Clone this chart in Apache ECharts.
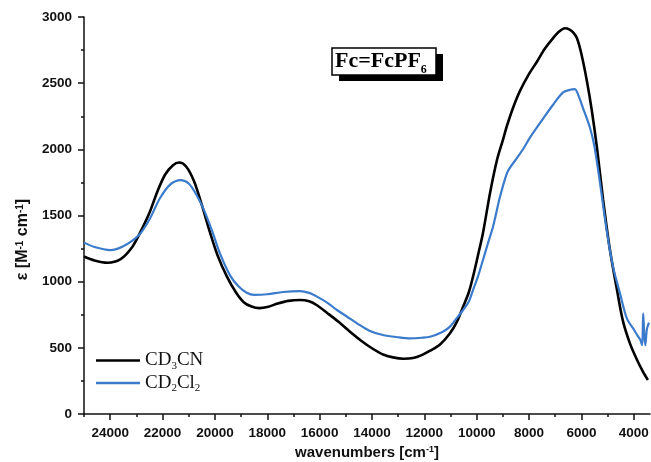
<!DOCTYPE html>
<html>
<head>
<meta charset="utf-8">
<script src="https://cdn.jsdelivr.net/npm/echarts@6/dist/echarts.min.js"></script>
<style>html,body{margin:0;padding:0;background:#fff}#c{width:651px;height:462px}</style>
</head>
<body>
<div id="c"></div>
<script>
// wavenumber (cm^-1), epsilon (M^-1 cm^-1)
const cd3cnX = [25000,24600,24100,23600,23200,22900,22500,22200,21900,21600,21370,21100,20800,20500,20200,19900,19540,19200,18900,18600,18300,18000,17600,17200,16750,16400,16100,15700,15300,14840,14400,14000,13580,13200,12800,12430,12100,11780,11400,11020,10750,10520,10300,10140,9950,9760,9490,9225,9000,8840,8600,8350,8000,7700,7400,7090,6850,6630,6450,6300,6169,6000,5787,5600,5405,5170,4910,4640,4410,4140,3900,3650,3460];
const cd3cnY = [1190,1160,1143,1170,1250,1353,1520,1680,1810,1880,1900,1870,1760,1580,1380,1200,1038,920,845,812,800,808,835,855,862,852,822,762,700,622,552,497,450,428,418,423,445,478,525,610,700,811,920,1038,1200,1368,1670,1919,2070,2180,2320,2440,2570,2662,2760,2839,2890,2915,2905,2880,2839,2720,2512,2290,2010,1617,1239,937,700,530,420,320,257];
const cd2cl2X = [25000,24600,24000,23500,22900,22500,22100,21700,21310,21000,20700,20416,20100,19800,19400,19100,18800,18500,18000,17400,16750,16400,16100,15700,15340,14950,14570,14100,13580,13000,12550,12100,11780,11290,11020,10800,10520,10300,10140,9950,9760,9570,9377,9110,8843,8700,8460,8200,7960,7470,7090,6700,6440,6250,6100,5940,5670,5500,5290,5020,4790,4530,4260,4000,3850,3750,3680,3640,3600,3560,3500,3420];
const cd2cl2Y = [1295,1262,1239,1268,1353,1470,1630,1735,1768,1742,1655,1541,1380,1210,1040,965,918,900,905,922,929,915,887,840,786,735,685,630,597,580,572,576,584,622,660,715,786,850,937,1040,1164,1290,1415,1642,1821,1870,1935,2010,2090,2230,2335,2430,2450,2455,2400,2312,2161,2020,1746,1368,1111,914,720,640,590,560,520,760,600,520,640,690];
const xMajorTicks = [24000,22000,20000,18000,16000,14000,12000,10000,8000,6000,4000];
const xMinorTicks = [25000,23000,21000,19000,17000,15000,13000,11000,9000,7000,5000];
const seriesNames = ['CD3CN','CD2Cl2'];

const pair = (xs, ys) => xs.map((x, i) => [x, ys[i]]);
const axisFont = {fontFamily:'Liberation Sans', fontWeight:'bold', color:'#111'};
const plain = v => String(v);

const chart = echarts.init(document.getElementById('c'), null, {renderer:'canvas'});
chart.setOption({
  animation:false,
  backgroundColor:'#fff',
  grid:{left:84, right:1, top:17, bottom:48, containLabel:false, outerBoundsMode:'none'},
  xAxis:[{
    type:'value', inverse:true, min:3380, max:25000,
    axisLine:{show:true, lineStyle:{color:'#111', width:1.5}},
    axisTick:{show:true, inside:false, length:6, customValues:xMajorTicks, lineStyle:{color:'#111', width:1.5}},
    axisLabel:{customValues:xMajorTicks, margin:12, fontSize:13.5, formatter:plain, ...axisFont},
    splitLine:{show:false},
    name:'wavenumbers [cm{sup|-1}]', nameLocation:'middle', nameGap:21,
    nameTextStyle:{fontSize:15, ...axisFont, rich:{sup:{fontSize:9, fontFamily:'Liberation Sans', fontWeight:'bold', verticalAlign:'top', lineHeight:10}}}
  },{
    type:'value', inverse:true, min:3380, max:25000, position:'bottom', gridIndex:0,
    axisLine:{show:false},
    axisTick:{show:true, inside:false, length:3, customValues:xMinorTicks, lineStyle:{color:'#111', width:1.5}},
    axisLabel:{show:false}, splitLine:{show:false}
  }],
  yAxis:{
    type:'value', min:0, max:3000, interval:500,
    axisLine:{show:true, lineStyle:{color:'#111', width:1.5}},
    axisTick:{show:true, inside:false, length:6, lineStyle:{color:'#111', width:1.5}},
    minorTick:{show:true, splitNumber:2, length:3, lineStyle:{color:'#111', width:1.5}},
    axisLabel:{margin:12, fontSize:13.5, formatter:plain, ...axisFont},
    splitLine:{show:false},
    name:'ε [M{sup|-1} cm{sup|-1}]', nameLocation:'middle', nameGap:52, nameRotate:90,
    nameTextStyle:{fontSize:16, padding:[0,48,0,0], ...axisFont, rich:{sup:{fontSize:10, fontFamily:'Liberation Sans', fontWeight:'bold', verticalAlign:'top', lineHeight:10}}}
  },
  legend:{
    orient:'vertical', left:96, top:351, padding:0, itemWidth:44, itemHeight:2.6, itemGap:2, icon:'rect',
    data:seriesNames,
    formatter:function(n){ return n==='CD3CN' ? '{a|CD}{s|3}{a|CN}' : '{a|CD}{s|2}{a|Cl}{s|2}'; },
    textStyle:{fontFamily:'Liberation Serif', fontSize:19, color:'#111',
      rich:{a:{fontFamily:'Liberation Serif', fontSize:19, lineHeight:22, color:'#111'},
            s:{fontFamily:'Liberation Serif', fontSize:11, lineHeight:8, verticalAlign:'bottom', color:'#111'}}}
  },
  graphic:[
    {type:'rect', shape:{x:339, y:54, width:104, height:27}, style:{fill:'#000'}, z:10},
    {type:'rect', shape:{x:332, y:48, width:104, height:27}, style:{fill:'#fff', stroke:'#000', lineWidth:1.5}, z:11},
    {type:'text', x:335, y:46, z:12, style:{
      text:'{a|Fc=FcPF}{s|6}',
      rich:{a:{fontFamily:'Liberation Serif', fontWeight:'bold', fontSize:22, lineHeight:30, fill:'#000'},
            s:{fontFamily:'Liberation Serif', fontWeight:'bold', fontSize:12, lineHeight:6, verticalAlign:'bottom', fill:'#000'}}
    }}
  ],
  series:[
    {name:'CD3CN', type:'line', xAxisIndex:0, data:pair(cd3cnX, cd3cnY), showSymbol:false, symbol:'none', smooth:0.3,
     lineStyle:{color:'#000', width:2.6}, itemStyle:{color:'#000'}, z:3},
    {name:'CD2Cl2', type:'line', xAxisIndex:0, data:pair(cd2cl2X, cd2cl2Y), showSymbol:false, symbol:'none', smooth:0.3,
     lineStyle:{color:'#3b7bcc', width:2.2}, itemStyle:{color:'#3b7bcc'}, z:4}
  ]
});
</script>
</body>
</html>
